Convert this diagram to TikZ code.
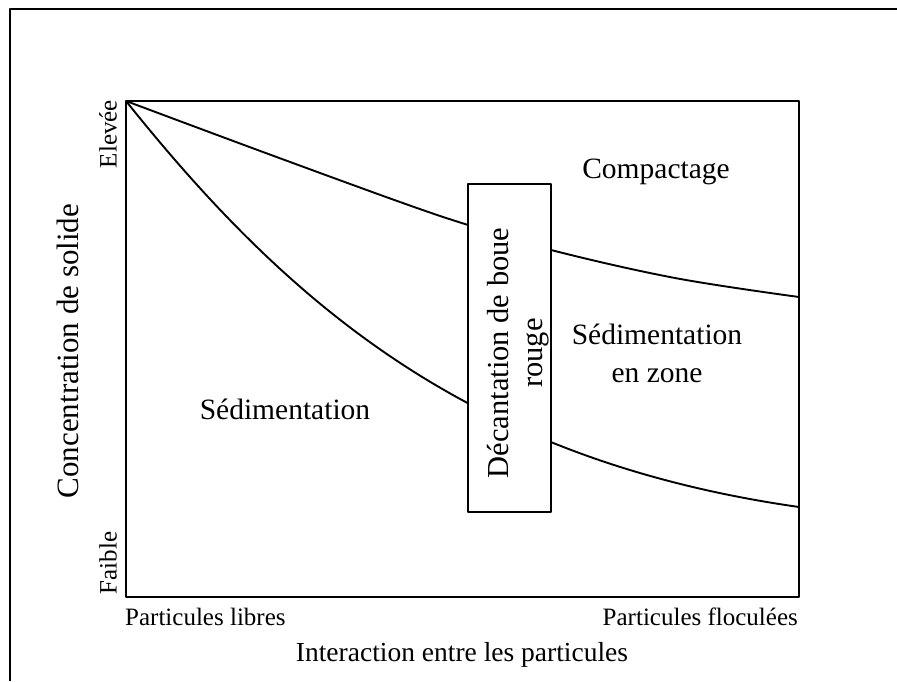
\documentclass[tikz,border=0pt]{standalone}
\usepackage{fontspec}
\setmainfont{Liberation Serif}
\begin{document}
\begin{tikzpicture}[x=1pt,y=-1pt, line join=round,
  frame/.style={line width=2pt},
  axisline/.style={line width=1.9pt},
  curve/.style={line width=1.9pt},
  big/.style={font=\fontsize{29.5}{38}\selectfont, inner sep=0pt},
  small/.style={font=\fontsize{25}{28}\selectfont, inner sep=0pt}]
\useasboundingbox (0,0) rectangle (897,681);
\draw[frame] (10,681) -- (10,9) -- (897,9);
\draw[axisline] (126,101) rectangle (799,597);
\draw[curve] plot[smooth, tension=0.6] coordinates {(126,101) (263,152) (400,202) (468,225) (551,250) (675,278) (799,297)};
\draw[curve] (126,101) .. controls (290,306) and (470,460) .. (799,507);
\node[draw, fill=white, line width=1.9pt, minimum width=83pt, minimum height=328pt, inner sep=0pt] (box) at (509.5,348) {};
\node[big, font=\fontsize{30.5}{34}\selectfont, rotate=90, align=center] (boxtxt) at (518,353) {Décantation de boue\\rouge};
\node[small, rotate=90] (hi) at (108,134) {Elevée};
\node[small, rotate=90] (lo) at (108,563) {Faible};
\node[big, font=\fontsize{31}{36}\selectfont, rotate=90] (ylab) at (68,351) {Concentration de solide};
\node[small, anchor=west] (xl) at (125,617) {Particules libres};
\node[small, anchor=east] (xr) at (798,617) {Particules floculées};
\node[big, font=\fontsize{27.5}{32}\selectfont] (xlab) at (462,655) {Interaction entre les particules};
\node[big] (comp) at (656,172) {Compactage};
\node[big, align=center] (sedz) at (657,353) {Sédimentation\\en zone};
\node[big] (sed) at (285,409) {Sédimentation};
\end{tikzpicture}
\end{document}
